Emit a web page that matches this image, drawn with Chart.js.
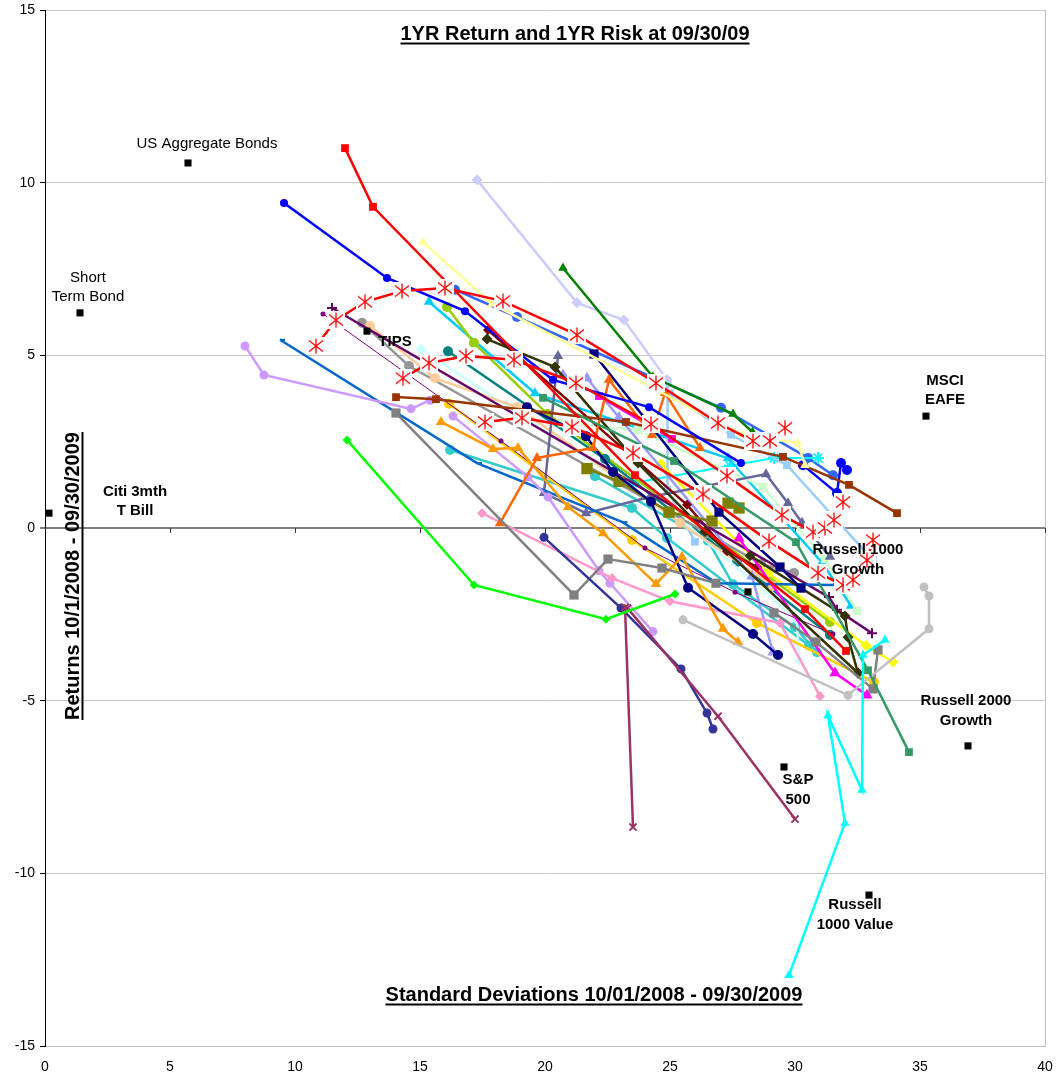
<!DOCTYPE html>
<html>
<head>
<meta charset="utf-8">
<script src="https://cdn.jsdelivr.net/npm/chart.js@4/dist/chart.umd.min.js"></script>
<style>
  html, body { margin: 0; padding: 0; background: #ffffff; }
  #wrap { width: 1062px; height: 1078px; }
</style>
</head>
<body>
<div id="wrap"><canvas id="c" width="1062" height="1078"></canvas></div>
<script>
// 1-year return (%) against 1-year standard deviation (%), 10/01/2008 - 09/30/2009.
// Each point is [risk, return].

// Benchmark indices (single points with names)
const indexNames  = ['US Aggregate Bonds', 'Short Term Bond', 'Citi 3mth T Bill', 'TIPS', 'MSCI EAFE',
                     'Russell 1000 Growth', 'Russell 2000 Growth', 'S&P 500', 'Russell 1000 Value'];
const indexRisk   = [5.72, 1.40, 0.16, 12.88, 35.24, 28.12, 36.92, 29.56, 32.96];
const indexReturn = [10.57, 6.23, 0.43, 5.70, 3.24, -1.85, -6.31, -6.92, -10.63];

// Manager / fund trails
const astA = [[10.84,5.27],[11.64,6.02],[12.80,6.55],[14.28,6.86],[16.00,6.95],[18.32,6.57],[21.28,5.59],[24.44,4.20],[26.92,3.04],[28.32,2.52],[29.00,2.52],[29.60,2.90]];
const astB = [[14.32,4.34],[15.36,4.78],[16.84,4.98],[18.76,4.87],[21.24,4.20],[24.24,3.01],[27.28,1.51],[29.48,0.38],[30.72,-0.12],[31.20,0.00],[31.56,0.23],[31.92,0.75]];
const astC = [[17.60,3.07],[19.08,3.19],[21.08,2.93],[23.52,2.17],[26.32,0.98],[28.96,-0.38],[30.92,-1.30],[31.92,-1.65],[32.32,-1.50],[32.88,-0.93],[33.12,-0.35]];
const redSquares   = [[12.00,11.00],[13.12,9.30],[23.60,1.53],[30.40,-2.35],[32.04,-3.56]];
const blueCircles  = [[9.56,9.41],[13.68,7.24],[16.80,6.28],[20.32,4.29],[24.16,3.50],[27.84,1.88]];
const blueCircles2 = [[30.32,1.82],[31.68,1.01],[31.84,1.88],[32.08,1.68]];
const royalBlue    = [[16.40,6.90],[18.88,6.11],[27.04,3.48],[30.52,2.03],[31.52,1.53]];
const lavender     = [[17.28,10.08],[21.28,6.52],[23.16,6.02],[24.88,4.29]];
const paleYellow   = [[15.12,8.28],[17.88,6.49],[27.90,2.70],[30.12,2.46],[30.40,1.82]];
const darkGreen    = [[20.72,7.53],[24.32,4.37],[27.52,3.30],[28.30,2.78]];
const limeGreen    = [[12.08,2.55],[17.16,-1.65],[22.44,-2.64],[25.20,-1.91]];
const indigo       = [[19.96,-0.27],[23.04,-2.32],[25.44,-4.08],[26.48,-5.36],[26.72,-5.82]];
const plumA        = [[23.20,-2.30],[23.52,-8.66]];
const plumB        = [[23.30,-2.32],[26.92,-5.45],[30.00,-8.43]];
const aqua         = [[33.60,-3.24],[32.72,-3.68],[32.68,-7.59],[31.32,-5.44],[32.00,-8.54],[29.76,-12.95]];
const seaGreen     = [[19.92,3.77],[25.16,1.94],[30.04,-0.41],[32.92,-4.12],[34.56,-6.49]];
const rust         = [[14.04,3.79],[15.64,3.73],[23.24,3.07],[29.52,2.06],[32.16,1.25],[34.08,0.43]];
const silver       = [[25.52,-2.66],[32.12,-4.84],[35.36,-2.92],[35.36,-1.97],[35.16,-1.71]];
const grayA        = [[14.04,3.33],[21.16,-1.94],[22.52,-0.90],[24.68,-1.16],[26.84,-1.60]];
const grayB        = [[29.16,-2.46],[30.84,-3.30],[33.12,-4.66],[33.32,-3.53]];
const lilacA       = [[8.00,5.27],[8.76,4.43],[14.64,3.45],[15.40,3.70]];
const lilacB       = [[16.32,3.24],[19.32,1.48],[20.12,0.90],[22.16,-1.24],[22.60,-1.60],[24.32,-3.00]];
const pink         = [[17.48,0.43],[22.68,-1.45],[25.00,-2.12],[29.40,-2.75],[31.00,-4.87]];
const orange       = [[18.20,0.14],[19.68,2.03],[21.92,2.32],[22.56,4.29],[24.28,2.69],[24.80,3.91],[26.20,2.32]];
const amber        = [[15.84,3.07],[17.92,2.29],[18.92,2.32],[20.92,0.61],[22.32,-0.15],[24.44,-1.62],[25.48,-0.83],[27.12,-2.92],[27.72,-3.30]];
const navySquares  = [[21.96,5.04],[26.96,0.46],[29.40,-1.13],[30.24,-1.74]];
const navyCircles  = [[19.28,3.50],[21.64,2.66],[22.72,1.62],[24.24,0.76],[25.72,-1.73],[28.32,-3.07],[29.32,-3.68]];
const olive        = [[21.68,1.72],[22.96,1.35],[24.96,0.46],[26.68,0.20],[27.32,0.72],[27.76,0.58]];
const darkOliveA   = [[17.68,5.47],[20.40,4.66],[23.72,1.88],[26.40,-0.10],[32.52,-4.20]];
const darkOliveB   = [[28.20,-0.80],[32.00,-2.55],[32.12,-3.16],[32.52,-4.20]];
const magentaSq    = [[22.16,3.82],[25.08,2.58]];
const magentaTri   = [[27.76,-0.30],[31.60,-4.20],[32.88,-4.84]];
const skyA         = [[24.90,4.25],[24.90,1.10],[26.00,-0.40]];
const skyB         = [[25.00,3.90],[27.44,2.70],[29.68,1.82],[33.12,-0.93]];
const cerulean     = [[15.36,6.55],[19.60,3.90],[27.32,2.02],[31.08,-1.00],[32.24,-2.25]];
const aquaStars    = [[23.52,1.30],[27.40,1.80],[29.16,2.03],[30.92,2.03]];
const turquoiseA   = [[16.20,2.26],[23.48,0.58],[24.88,-0.29],[30.56,-3.40]];
const turquoiseB   = [[22.00,1.50],[26.52,-0.37],[27.52,-1.63],[30.00,-2.87],[30.88,-3.60]];
const cobalt       = [[9.40,5.45],[17.28,1.88],[23.10,0.17],[26.88,-1.60],[31.52,-1.65],[31.80,-1.50]];
const purplePlus   = [[11.48,6.37],[31.36,-2.00],[31.68,-2.37],[33.08,-3.05]];
const purpleThin   = [[11.12,6.20],[18.24,2.52],[24.00,-0.58],[27.60,-1.86],[31.52,-3.07]];
const maroon       = [[17.72,5.73],[25.68,0.67],[27.28,-0.67],[28.48,-1.13]];
const slate        = [[20.52,4.98],[19.96,1.01],[21.64,0.43],[24.20,0.90],[28.84,1.56],[29.72,0.72],[30.28,0.15],[31.40,-0.83]];
const periwinkle   = [[20.72,4.43],[21.68,4.34],[22.96,3.20],[28.28,-1.40],[29.12,-3.60]];
const mint         = [[20.68,3.04],[23.72,2.84],[28.72,1.19],[31.20,-0.90],[32.48,-2.40]];
const yellow       = [[24.64,1.85],[28.92,-1.30],[32.84,-3.40],[33.92,-3.88]];
const gold         = [[16.16,3.60],[23.48,-0.35],[28.48,-2.75],[33.16,-4.46]];
const peach        = [[13.00,5.85],[15.60,4.34],[18.88,3.50],[25.40,0.15],[29.12,-1.68]];
const grayCircles  = [[12.68,5.94],[14.56,4.69],[26.48,-0.15],[28.64,-1.04],[29.96,-1.30]];
const iceBlue      = [[15.04,5.18],[25.72,0.08],[30.08,-2.66],[30.16,-3.82]];
const teal         = [[16.12,5.12],[22.40,2.00],[27.68,-0.98],[31.40,-3.10]];
const yellowGreen  = [[16.08,6.40],[17.16,5.36],[20.10,3.30],[31.40,-2.72]];

// Asterisk marker on a white box
function makeAsterisk() {
  const s = 18, cv = document.createElement('canvas');
  cv.width = s; cv.height = s;
  const g = cv.getContext('2d');
  g.fillStyle = '#ffffff';
  g.fillRect(0, 0, s, s);
  g.strokeStyle = '#ff0000';
  g.lineWidth = 1.3;
  g.beginPath();
  g.moveTo(9, 1.5);  g.lineTo(9, 16.5);
  g.moveTo(2, 3.5);  g.lineTo(16, 14.5);
  g.moveTo(2, 14.5); g.lineTo(16, 3.5);
  g.stroke();
  return cv;
}
const asterisk = makeAsterisk();

// Series styling: [data, colour, marker, marker radius, line width]
const seriesStyles = [
  [astA, '#FF0000', asterisk, 9, 2.5],
  [astB, '#FF0000', asterisk, 9, 2.5],
  [astC, '#FF0000', asterisk, 9, 2.5],
  [redSquares, '#FF0000', 'rect', 5.5, 2.5],
  [blueCircles, '#0000FF', 'circle', 4, 2.5],
  [aqua, '#00FFFF', 'triangle', 5.5, 2.5],
  [limeGreen, '#00FF00', 'rectRot', 4.5, 2.5],
  [plumA, '#993366', 'crossRot', 5, 2.5],
  [plumB, '#993366', 'crossRot', 5, 2.5],
  [indigo, '#333399', 'circle', 4.5, 2.5],
  [seaGreen, '#339966', 'rect', 5.5, 2.5],
  [silver, '#C0C0C0', 'circle', 4.5, 2.5],
  [darkGreen, '#008000', 'triangle', 5.5, 2.5],
  [lavender, '#CCCCFF', 'rectRot', 5.5, 2.5],
  [paleYellow, '#FFFF99', 'triangle', 5.5, 2.5],
  [rust, '#993300', 'rect', 5.5, 2.5],
  [grayA, '#808080', 'rect', 6.5, 2.5],
  [grayB, '#808080', 'rect', 6.5, 2.5],
  [orange, '#FF6600', 'triangle', 6, 2.5],
  [amber, '#FF9900', 'triangle', 6, 2.5],
  [navySquares, '#000080', 'rect', 6.5, 2.5],
  [navyCircles, '#000080', 'circle', 5, 2.5],
  [olive, '#808000', 'rect', 8, 2.5],
  [darkOliveA, '#333300', 'rectRot', 5.5, 2.5],
  [darkOliveB, '#333300', 'rectRot', 5.5, 2.5],
  [magentaSq, '#FF00FF', 'rect', 5.5, 2.5],
  [magentaTri, '#FF00FF', 'triangle', 6.5, 2.5],
  [pink, '#FF99CC', 'rectRot', 5, 2.5],
  [lilacA, '#CC99FF', 'circle', 4.5, 2.5],
  [lilacB, '#CC99FF', 'circle', 4.5, 2.5],
  [cobalt, '#0066CC', 'dash', 5, 2.5],
  [purplePlus, '#660066', 'cross', 5, 2.5],
  [purpleThin, '#800080', 'circle', 2.5, 1],
  [maroon, '#800000', 'rectRot', 5, 2.5],
  [slate, '#666699', 'triangle', 6, 2.5],
  [periwinkle, '#9999FF', 'triangle', 6.5, 2.5],
  [mint, '#CCFFCC', 'rect', 6, 2.5],
  [yellow, '#FFFF00', 'rectRot', 5.5, 2.5],
  [gold, '#FFCC00', 'circle', 5, 2.5],
  [peach, '#FFCC99', 'circle', 5, 2.5],
  [grayCircles, '#969696', 'circle', 5, 2.5],
  [iceBlue, '#CCFFFF', 'rectRot', 5.5, 2.5],
  [teal, '#008080', 'circle', 5, 2.5],
  [yellowGreen, '#99CC00', 'circle', 5, 2.5],
  [skyA, '#99CCFF', 'rect', 5.5, 2.5],
  [skyB, '#99CCFF', 'rect', 5.5, 2.5],
  [cerulean, '#00CCFF', 'triangle', 6, 2.5],
  [aquaStars, '#00FFFF', 'star', 6, 2],
  [turquoiseA, '#33CCCC', 'circle', 5, 2.5],
  [turquoiseB, '#33CCCC', 'circle', 5, 2.5],
  [royalBlue, '#3366FF', 'circle', 5, 2.5],
  [blueCircles2, '#0000FF', 'circle', 5, 2.5]
];

const FONT = "'Liberation Sans', Arial, Helvetica, sans-serif";

const datasets = [{
  label: 'Indices',
  data: indexRisk.map((x, i) => ({ x: x, y: indexReturn[i] })),
  showLine: false,
  pointStyle: 'rect',
  pointRadius: 5,
  backgroundColor: '#000000',
  borderColor: '#000000',
  borderWidth: 0
}];
seriesStyles.forEach(([pts, col, mk, r, w]) => {
  const strokeOnly = (mk === 'cross' || mk === 'crossRot' || mk === 'star' || mk === 'dash');
  datasets.push({
    data: pts.map(p => ({ x: p[0], y: p[1] })),
    showLine: true,
    borderColor: col,
    borderWidth: w,
    backgroundColor: col,
    pointStyle: mk,
    pointRadius: r,
    pointBorderColor: col,
    pointBorderWidth: strokeOnly ? 2 : 0,
    pointBackgroundColor: col,
    tension: 0
  });
});

// Index label text and placement relative to each index marker (pixels)
const indexLabelLayout = [
  { lines: ['US Aggregate Bonds'], dx: 19, dy: [-19], bold: false },
  { lines: ['Short', 'Term Bond'], dx: 8, dy: [-35, -16], bold: false },
  { lines: ['Citi 3mth', 'T Bill'], dx: 86, dy: [-21, -2], bold: true },
  { lines: ['TIPS'], dx: 28, dy: [11], bold: true },
  { lines: ['MSCI', 'EAFE'], dx: 19, dy: [-35, -16], bold: true },
  { lines: ['Russell 1000', 'Growth'], dx: 110, dy: [-42, -22], bold: true },
  { lines: ['Russell 2000', 'Growth'], dx: -2, dy: [-45, -25], bold: true },
  { lines: ['S&P', '500'], dx: 14, dy: [13, 33], bold: true },
  { lines: ['Russell', '1000 Value'], dx: -14, dy: [10, 30], bold: true }
];

function underlinedText(ctx, text, x, y, font) {
  ctx.font = font;
  ctx.textAlign = 'center';
  ctx.textBaseline = 'alphabetic';
  ctx.fillText(text, x, y);
  const w = ctx.measureText(text).width;
  ctx.fillRect(x - w / 2, y + 2.5, w, 2);
}

const framePlugin = {
  id: 'frame',
  beforeDatasetsDraw(chart) {
    const { ctx, chartArea: a, scales } = chart;
    const y0 = scales.y.getPixelForValue(0);
    ctx.save();
    // plot-area border (right side)
    ctx.strokeStyle = '#c0c0c0';
    ctx.lineWidth = 1;
    ctx.beginPath();
    ctx.moveTo(a.right + 0.5, a.top);
    ctx.lineTo(a.right + 0.5, a.bottom);
    ctx.stroke();
    // tick marks on the horizontal axis through zero
    ctx.strokeStyle = '#333333';
    ctx.beginPath();
    for (let v = 5; v <= 40; v += 5) {
      const px = Math.round(scales.x.getPixelForValue(v)) + 0.5;
      ctx.moveTo(px, y0);
      ctx.lineTo(px, y0 + 5);
    }
    ctx.stroke();
    ctx.restore();
  },
  afterDraw(chart) {
    const { ctx, scales } = chart;
    ctx.save();
    ctx.fillStyle = '#000000';
    underlinedText(ctx, '1YR Return and 1YR Risk at 09/30/09', 575, 40, 'bold 20px ' + FONT);
    underlinedText(ctx, 'Standard Deviations 10/01/2008 - 09/30/2009', 594, 1001, 'bold 20px ' + FONT);
    ctx.save();
    ctx.translate(79, 576);
    ctx.rotate(-Math.PI / 2);
    underlinedText(ctx, 'Returns 10/1/2008 - 09/30/2009', 0, 0, 'bold 20px ' + FONT);
    ctx.restore();

    ctx.textAlign = 'center';
    ctx.textBaseline = 'middle';
    indexLabelLayout.forEach((lab, i) => {
      const px = scales.x.getPixelForValue(indexRisk[i]);
      const py = scales.y.getPixelForValue(indexReturn[i]);
      ctx.font = (lab.bold ? 'bold ' : '') + '15px ' + FONT;
      lab.lines.forEach((t, k) => ctx.fillText(t, px + lab.dx, py + lab.dy[k]));
    });
    ctx.restore();
  }
};

new Chart(document.getElementById('c'), {
  type: 'scatter',
  data: { datasets: datasets },
  options: {
    responsive: false,
    animation: false,
    devicePixelRatio: 1,
    events: [],
    layout: { padding: { left: 0, right: 17, top: 10, bottom: 0 } },
    plugins: { legend: { display: false }, tooltip: { enabled: false }, title: { display: false } },
    scales: {
      x: {
        type: 'linear', min: 0, max: 40, position: 'bottom',
        ticks: { stepSize: 5, color: '#000', font: { family: FONT, size: 14 }, padding: 13, maxRotation: 0 },
        grid: { display: true, drawOnChartArea: false, drawTicks: false },
        border: { display: true, color: '#c0c0c0' },
        afterFit(s) { s.height = 32; s.paddingLeft = 0; s.paddingRight = 0; }
      },
      y: {
        type: 'linear', min: -15, max: 15,
        ticks: { stepSize: 5, color: '#000', font: { family: FONT, size: 14 }, padding: 5 },
        grid: {
          color: c => (c.tick && c.tick.value === 0) ? '#808080' : '#c8c8c8',
          lineWidth: c => (c.tick && c.tick.value === 0) ? 2 : 1,
          tickColor: '#000000', tickLength: 5, tickWidth: 1
        },
        border: { display: true, color: '#000000', width: 1 },
        afterFit(s) { s.width = 45; s.paddingTop = 0; s.paddingBottom = 0; }
      }
    }
  },
  plugins: [framePlugin]
});
</script>
</body>
</html>
